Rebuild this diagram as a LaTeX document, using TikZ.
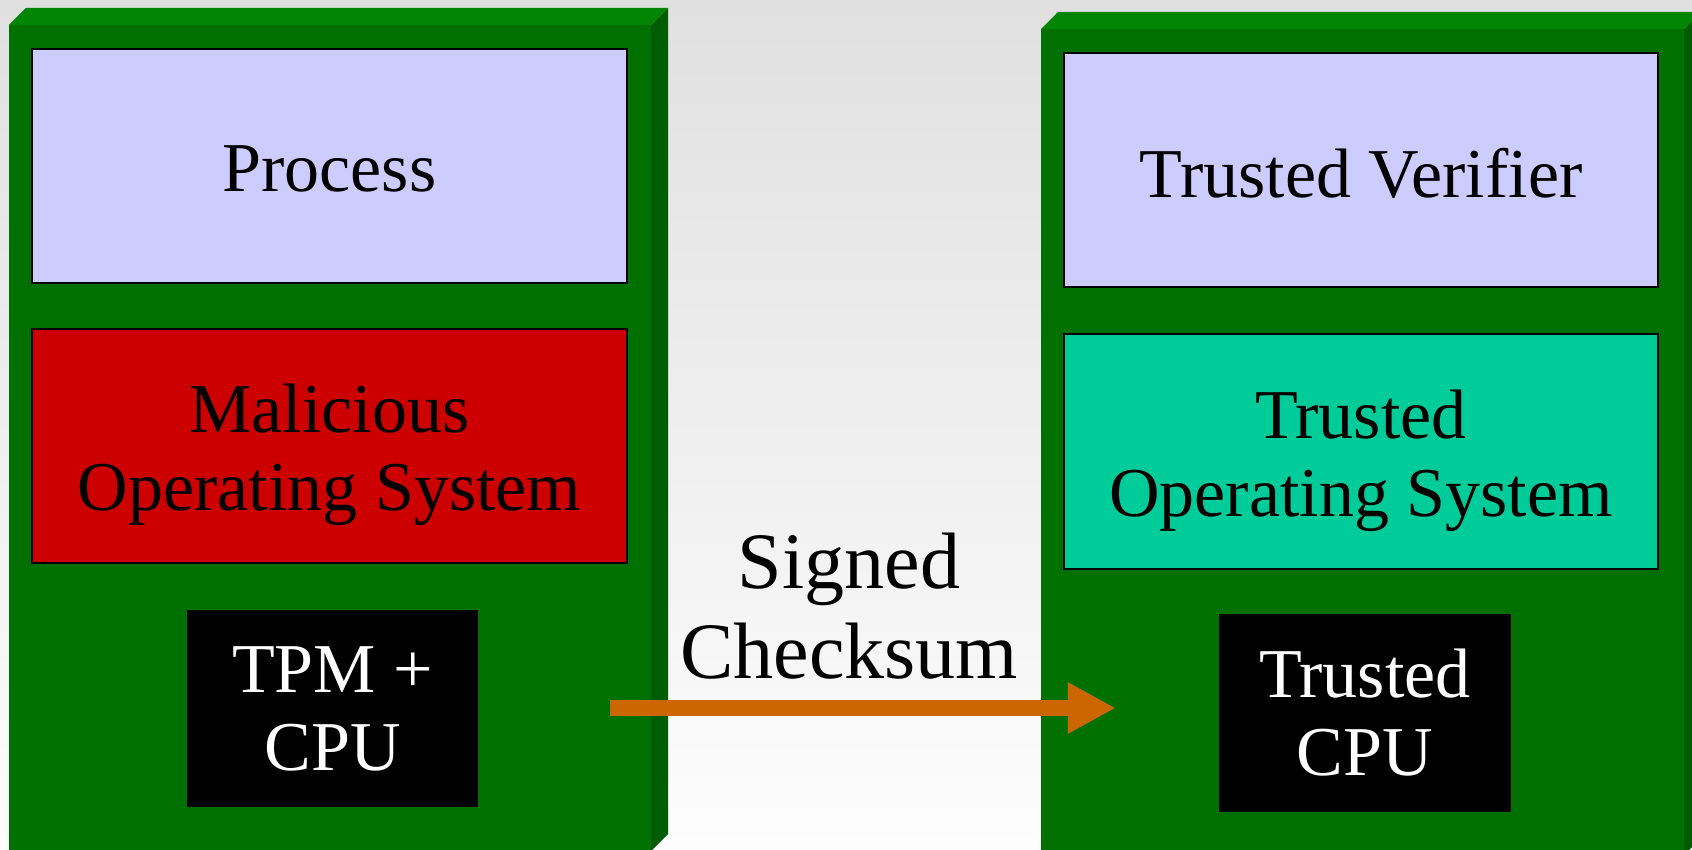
\documentclass[tikz,border=0pt]{standalone}
\usepackage{fontspec}
\setmainfont{Liberation Serif}
\usetikzlibrary{arrows.meta}
\definecolor{bgtop}{HTML}{E0E0E0}
\definecolor{bgbot}{HTML}{FDFDFD}
\definecolor{gtop}{HTML}{008505}
\definecolor{gfront}{HTML}{007000}
\definecolor{gside}{HTML}{005C00}
\definecolor{lav}{HTML}{CCCCFF}
\definecolor{malred}{HTML}{CC0000}
\definecolor{teal}{HTML}{00CC99}
\definecolor{arrowc}{HTML}{CC6600}
\tikzset{
  layer/.style={draw=black, line width=1.6pt, inner sep=0pt},
  laytext/.style={inner sep=0pt, align=center, text=black,
    font=\fontsize{70}{78}\selectfont},
  chip/.style={fill=black, draw=none, inner sep=0pt, align=center,
    font=\fontsize{70}{78}\selectfont, text=white},
  biglabel/.style={inner sep=0pt, align=center, font=\fontsize{80}{90}\selectfont, text=black},
  bigarrow/.style={draw=arrowc, line width=16pt,
    -{Triangle[width=48pt,length=48pt,fill=arrowc]}}
}
\begin{document}
\begin{tikzpicture}[x=1pt,y=-1pt]
\useasboundingbox (0,0) rectangle (1692,850);
\shade[top color=bgtop, bottom color=bgbot] (0,0) rectangle (1692,850);
% left 3D box
\fill[gtop] (9,25) -- (26,8) -- (668,8) -- (651,25) -- cycle;
\fill[gside] (651,25) -- (668,8) -- (668,834) -- (651,851) -- cycle;
\fill[gfront] (9,25) rectangle (651,851);
% right 3D box
\fill[gtop] (1041,29) -- (1058,12) -- (1701,12) -- (1684,29) -- cycle;
\fill[gside] (1684,29) -- (1701,12) -- (1701,838) -- (1684,855) -- cycle;
\fill[gfront] (1041,29) rectangle (1684,855);
% left stack
\node[layer, fill=lav, minimum width=595pt, minimum height=234pt,
  label={[laytext, yshift=-3pt]center:{Process}}] (proc) at (329.5,166) {};
\node[layer, fill=malred, minimum width=595pt, minimum height=234pt,
  label={[laytext, yshift=-9pt]center:{Malicious\\Operating System}}] (mos) at (329.5,446) {};
\node[chip, minimum width=291pt, minimum height=197pt] (tpm) at (332.5,708.5) {TPM +\\CPU};
% right stack
\node[layer, fill=lav, minimum width=594pt, minimum height=234pt,
  label={[laytext, yshift=-3pt]center:{Trusted Verifier}}] (ver) at (1361,170) {};
\node[layer, fill=teal, minimum width=594pt, minimum height=235pt,
  label={[laytext, yshift=-9pt]center:{Trusted\\Operating System}}] (tos) at (1361,451.5) {};
\node[chip, minimum width=292pt, minimum height=198pt] (tcpu) at (1365,713) {Trusted\\CPU};
% arrow
\coordinate (astart) at ([xshift=132pt]tpm.east |- 0,708);
\coordinate (aend) at ([xshift=-103pt]tcpu.west |- 0,708);
\draw[bigarrow] (astart) -- (aend);
\node[biglabel] (sig) at (849,606) {Signed\\Checksum};
\end{tikzpicture}
\end{document}
